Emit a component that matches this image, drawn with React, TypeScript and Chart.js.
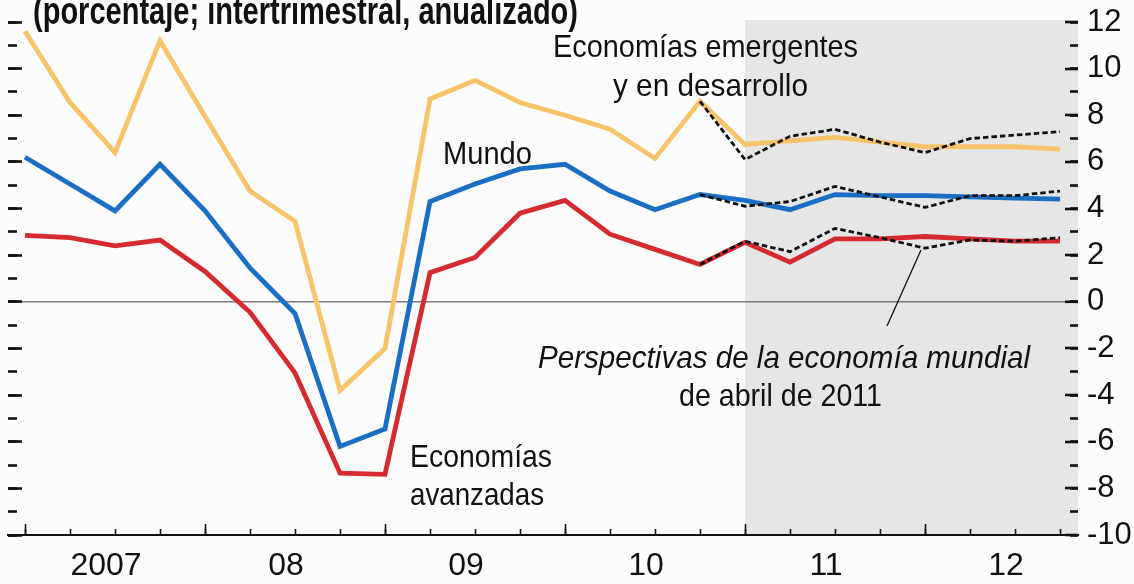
import React, { useEffect, useRef } from "react";
import { Chart, registerables } from "chart.js";

Chart.register(...registerables);

// Quarterly observations (end-of-quarter), 2006T4 … 2012T3
const quarters = [
  "2006T4",
  "2007T1", "2007T2", "2007T3", "2007T4",
  "2008T1", "2008T2", "2008T3", "2008T4",
  "2009T1", "2009T2", "2009T3", "2009T4",
  "2010T1", "2010T2", "2010T3", "2010T4",
  "2011T1", "2011T2", "2011T3", "2011T4",
  "2012T1", "2012T2", "2012T3",
];

const yearLabels = ["2007", "08", "09", "10", "11", "12"];

// Economías emergentes y en desarrollo
const emergentes = [
  11.6, 8.55, 6.4, 11.2, 7.95, 4.75, 3.45, -3.8, -2.0, 8.7, 9.5, 8.55, 8.0,
  7.4, 6.15, 8.6, 6.75, 6.9, 7.05, 6.85, 6.65, 6.65, 6.65, 6.55,
];
// Mundo
const mundo = [
  6.2, 5.05, 3.9, 5.9, 3.9, 1.45, -0.5, -6.2, -5.45, 4.3, 5.05, 5.7, 5.9,
  4.75, 3.95, 4.6, 4.35, 3.95, 4.6, 4.55, 4.55, 4.5, 4.45, 4.4,
];
// Economías avanzadas
const avanzadas = [
  2.85, 2.75, 2.4, 2.65, 1.3, -0.45, -3.05, -7.35, -7.4, 1.25, 1.9, 3.8, 4.35,
  2.9, 2.25, 1.6, 2.55, 1.7, 2.7, 2.7, 2.8, 2.7, 2.6, 2.6,
];

// Perspectivas de la economía mundial, abril de 2011 (desde 2010T3)
const weoStart = 15;
const weoEmergentes = [8.6, 6.1, 7.1, 7.4, 6.85, 6.4, 7.0, 7.15, 7.3];
const weoMundo = [4.6, 4.1, 4.3, 4.95, 4.5, 4.05, 4.55, 4.55, 4.75];
const weoAvanzadas = [1.6, 2.6, 2.15, 3.15, 2.75, 2.3, 2.65, 2.6, 2.75];

const projectionStart = 16; // sombreado: 2011 en adelante

const FONT = '"Liberation Sans Narrow", "Arial Narrow", "Liberation Sans", Arial, sans-serif';

const toPoints = (vals: number[], offset = 0) =>
  vals.map((v, i) => ({ x: offset + i, y: v }));

const X_MIN = -0.378;
const X_MAX = 23.4;

function drawFitted(
  ctx: CanvasRenderingContext2D,
  text: string,
  left: number,
  baseline: number,
  width: number,
  font: string
) {
  ctx.save();
  ctx.font = font;
  const w = ctx.measureText(text).width;
  ctx.translate(left, baseline);
  ctx.scale(width / w, 1);
  ctx.textAlign = "left";
  ctx.textBaseline = "alphabetic";
  ctx.fillStyle = "#111";
  ctx.fillText(text, 0, 0);
  ctx.restore();
}

const backgroundPlugin = {
  id: "bgShade",
  beforeDraw(chart: any) {
    const { ctx, chartArea, scales } = chart;
    ctx.save();
    ctx.fillStyle = "#fcfcfc";
    ctx.fillRect(0, 0, chart.width, chart.height);
    const x0 = scales.x.getPixelForValue(projectionStart);
    ctx.fillStyle = "#e6e6e6";
    ctx.fillRect(x0, chartArea.top - 2, chartArea.right - x0, chartArea.bottom - chartArea.top + 2);
    ctx.restore();
  },
};

const annotationPlugin = {
  id: "annotations",
  afterDraw(chart: any) {
    const ctx = chart.ctx as CanvasRenderingContext2D;
    const reg = `32px ${FONT}`;
    const ital = `italic 32px ${FONT}`;
    drawFitted(ctx, "(porcentaje; intertrimestral, anualizado)", 33, 24, 545, `bold 39px ${FONT}`);
    drawFitted(ctx, "Economías emergentes", 553, 57, 305, reg);
    drawFitted(ctx, "y en desarrollo", 613, 96, 195, reg);
    drawFitted(ctx, "Mundo", 443, 164, 89, reg);
    drawFitted(ctx, "Economías", 410, 467, 142, reg);
    drawFitted(ctx, "avanzadas", 410, 505, 134, reg);
    drawFitted(ctx, "Perspectivas de la economía mundial", 538, 368, 492, ital);
    drawFitted(ctx, "de abril de 2011", 679, 406, 203, reg);
    // leader line
    ctx.save();
    ctx.strokeStyle = "#111";
    ctx.lineWidth = 1.3;
    ctx.beginPath();
    ctx.moveTo(921, 250);
    ctx.lineTo(887, 326);
    ctx.stroke();
    ctx.restore();
  },
};

const tickAxis = (
  position: "left" | "right" | "bottom",
  step: number,
  len: number,
  width: number,
  weight: number
) => {
  const horizontal = position === "bottom";
  return {
    type: "linear",
    position,
    weight,
    min: horizontal ? X_MIN : -10,
    max: horizontal ? X_MAX : 12,
    afterBuildTicks: (s: any) => {
      const ticks = [];
      const lo = horizontal ? 0 : -10;
      const hi = horizontal ? 23 : 12;
      for (let v = lo; v <= hi; v += step) ticks.push({ value: v });
      s.ticks = ticks;
    },
    afterFit: (s: any) => {
      if (horizontal) s.height = 0;
      else s.width = 0;
      s.paddingTop = 0;
      s.paddingBottom = 0;
      s.paddingLeft = 0;
      s.paddingRight = 0;
    },
    ticks: { display: false },
    grid: {
      drawOnChartArea: false,
      drawTicks: true,
      tickLength: -len,
      tickWidth: width,
      tickColor: "#111",
    },
    border: { display: false },
  };
};

export default function App() {
  const ref = useRef<HTMLCanvasElement | null>(null);

  useEffect(() => {
    if (!ref.current) return;
    const solid = (label: string, vals: number[], color: string) => ({
      label,
      data: toPoints(vals),
      borderColor: color,
      backgroundColor: color,
      borderWidth: 4.8,
      pointRadius: 0,
      tension: 0,
      order: 2,
      xAxisID: "x",
      yAxisID: "y",
    });
    const dashed = (label: string, vals: number[]) => ({
      label,
      data: toPoints(vals, weoStart),
      borderColor: "#111",
      backgroundColor: "#111",
      borderWidth: 2.8,
      borderDash: [5.5, 3],
      pointRadius: 0,
      tension: 0,
      order: 1,
      xAxisID: "x",
      yAxisID: "y",
    });

    const chart = new Chart(ref.current, {
      type: "line",
      data: {
        labels: quarters,
        datasets: [
          dashed("WEO abril 2011: Economías emergentes", weoEmergentes),
          dashed("WEO abril 2011: Mundo", weoMundo),
          dashed("WEO abril 2011: Economías avanzadas", weoAvanzadas),
          solid("Economías emergentes y en desarrollo", emergentes, "#f8c46a"),
          solid("Mundo", mundo, "#1a6fc4"),
          solid("Economías avanzadas", avanzadas, "#d42a30"),
        ] as any,
      },
      options: {
        animation: false,
        responsive: true,
        maintainAspectRatio: false,
        layout: { padding: { left: 8, top: 22, right: 0, bottom: 0 } },
        plugins: {
          legend: { display: false },
          tooltip: { enabled: false },
          title: { display: false },
        },
        scales: {
          x: {
            type: "linear",
            position: "bottom",
            weight: 1,
            min: X_MIN,
            max: X_MAX,
            afterBuildTicks: (s: any) => {
              s.ticks = yearLabels.map((_, i) => ({ value: i * 4 + 1.8 }));
            },
            afterFit: (s: any) => {
              s.height = 49;
              s.paddingLeft = 0;
              s.paddingRight = 0;
            },
            ticks: {
              autoSkip: false,
              maxRotation: 0,
              padding: 4,
              color: "#111",
              font: { family: FONT, size: 32 },
              callback: (_v: any, i: number) => yearLabels[i],
            },
            grid: { display: false },
            border: { display: true, color: "#111", width: 2 },
          },
          xMajor: tickAxis("bottom", 4, 11, 1.6, 0),
          xMinor: tickAxis("bottom", 1, 6, 1.6, 0),
          y: {
            type: "linear",
            position: "right",
            weight: 1,
            min: -10,
            max: 12,
            afterFit: (s: any) => {
              s.width = 56;
              s.paddingTop = 0;
              s.paddingBottom = 0;
            },
            ticks: {
              stepSize: 2,
              padding: 22,
              color: "#111",
              font: { family: FONT, size: 31 },
              callback: (v: any) => String(v),
            },
            grid: {
              drawOnChartArea: true,
              drawTicks: true,
              tickLength: -13,
              tickWidth: 2.6,
              tickColor: "#111",
              color: (c: any) => (c.tick && c.tick.value === 0 ? "#7a7a7a" : "rgba(0,0,0,0)"),
              lineWidth: (c: any) => (c.tick && c.tick.value === 0 ? 1.6 : 0),
            },
            border: { display: false },
          },
          yMinor: tickAxis("right", 1, 8, 2.6, 0),
          yLeft: tickAxis("left", 2, 14, 2.6, 0),
          yLeftMinor: tickAxis("left", 1, 9, 2.6, 0),
        } as any,
      },
      plugins: [backgroundPlugin, annotationPlugin],
    });
    return () => chart.destroy();
  }, []);

  return (
    <div style={{ position: "fixed", left: 0, top: 0, width: 1134, height: 584, background: "#fcfcfc" }}>
      <canvas ref={ref} />
    </div>
  );
}
